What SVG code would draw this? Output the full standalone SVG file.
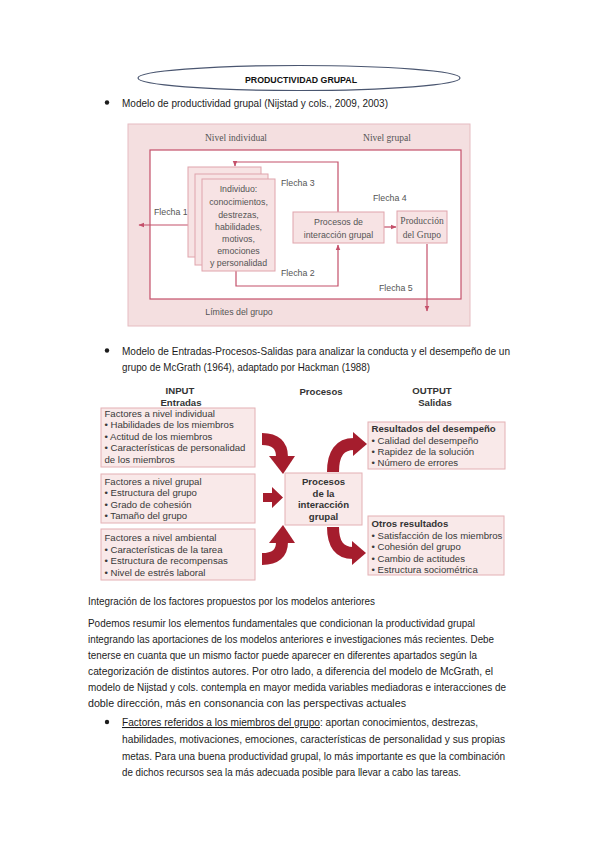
<svg xmlns="http://www.w3.org/2000/svg" width="599" height="848" viewBox="0 0 599 848">
<defs>
<style>
.pg{font-family:"Liberation Sans",Arial,sans-serif;font-size:10.5px;fill:#1c1c1c}
.d1s{font-family:"Liberation Sans",Arial,sans-serif;font-size:8.8px;fill:#555}
.d1r{font-family:"Liberation Serif","Times New Roman",serif;font-size:9.5px;fill:#555}
.d2{font-family:"Liberation Sans",Arial,sans-serif;font-size:9.6px;fill:#3a3a3a}
.d2b{font-family:"Liberation Sans",Arial,sans-serif;font-size:9.6px;font-weight:bold;fill:#333}
.ln{fill:none;stroke:#c4506a;stroke-width:1.2}
.bx1{fill:#f7e3e4;stroke:#e0a4ac;stroke-width:1}
.bx2{fill:#f9e9e9;stroke:#e3b0b4;stroke-width:1}
.arr{fill:#a51d2d}
.arrs{fill:none;stroke:#a51d2d;stroke-width:12}
</style>
<marker id="ah" viewBox="0 0 10 10" refX="9" refY="5" markerWidth="5" markerHeight="5" orient="auto"><path d="M0,1 L10,5 L0,9 z" fill="#c4506a"/></marker>
</defs>
<rect width="599" height="848" fill="#ffffff"/>

<!-- Title -->
<g id="title">
<ellipse cx="299" cy="78" rx="161" ry="12.5" fill="none" stroke="#4a5670" stroke-width="1.2"/>
<text x="301" y="82.5" text-anchor="middle" font-family="Liberation Sans,Arial,sans-serif" font-size="9" font-weight="bold" fill="#111" textLength="112" lengthAdjust="spacingAndGlyphs">PRODUCTIVIDAD GRUPAL</text>
</g>

<g id="bullet1">
<circle cx="107" cy="102.5" r="2.2" fill="#1c1c1c"/>
<text class="pg" x="122" y="106.5" textLength="266" lengthAdjust="spacingAndGlyphs">Modelo de productividad grupal (Nijstad y cols., 2009, 2003)</text>
</g>

<!-- Diagram 1 -->
<g id="d1-frame">
<rect x="128" y="124" width="342" height="202" fill="#f4dfe0" stroke="#e6bcc1" stroke-width="1"/>
<rect x="150" y="150" width="311" height="149" fill="#ffffff" stroke="#c4506a" stroke-width="1.2"/>
<text class="d1r" x="236" y="140.5" text-anchor="middle">Nivel individual</text>
<text class="d1r" x="387" y="140.5" text-anchor="middle">Nivel grupal</text>
<text class="d1s" x="239" y="315" text-anchor="middle">Límites del grupo</text>
</g>

<g id="d1-connectors">
<polyline class="ln" points="338,212 338,162 235,162 235,166" marker-end="url(#ah)"/>
<polyline class="ln" points="236,271 236,286 338,286 338,245" marker-end="url(#ah)"/>
<line class="ln" x1="188" y1="225" x2="139" y2="225" marker-end="url(#ah)"/>
<line class="ln" x1="384" y1="227" x2="396" y2="227" marker-end="url(#ah)"/>
<line class="ln" x1="427" y1="244" x2="427" y2="311" marker-end="url(#ah)" stroke-width="0.9"/>
<text class="d1s" x="154" y="214.5">Flecha 1</text>
<text class="d1s" x="281" y="186">Flecha 3</text>
<text class="d1s" x="373" y="201">Flecha 4</text>
<text class="d1s" x="281" y="276">Flecha 2</text>
<text class="d1s" x="379" y="291">Flecha 5</text>
</g>

<g id="d1-individuo">
<rect class="bx1" x="188" y="167" width="73" height="90"/>
<rect class="bx1" x="195" y="174" width="73" height="91"/>
<rect class="bx1" x="202" y="179" width="73" height="92"/>
<text class="d1s" x="238.5" y="191.5" text-anchor="middle">Individuo:</text>
<text class="d1s" x="238.5" y="205" text-anchor="middle">conocimientos,</text>
<text class="d1s" x="238.5" y="217.5" text-anchor="middle">destrezas,</text>
<text class="d1s" x="238.5" y="229.5" text-anchor="middle">habilidades,</text>
<text class="d1s" x="238.5" y="241.5" text-anchor="middle">motivos,</text>
<text class="d1s" x="238.5" y="253.5" text-anchor="middle">emociones</text>
<text class="d1s" x="238.5" y="265.5" text-anchor="middle">y personalidad</text>
</g>

<g id="d1-procesos">
<rect class="bx1" x="293" y="212" width="91" height="31"/>
<text class="d1s" x="338.5" y="225" text-anchor="middle">Procesos de</text>
<text class="d1s" x="338.5" y="238" text-anchor="middle">interacción grupal</text>
</g>

<g id="d1-produccion">
<rect class="bx1" x="397" y="211" width="50" height="32"/>
<text class="d1r" x="422" y="224" text-anchor="middle">Producción</text>
<text class="d1r" x="422" y="238" text-anchor="middle">del Grupo</text>
</g>

<g id="bullet2">
<circle cx="107" cy="350.5" r="2.2" fill="#1c1c1c"/>
<text class="pg" x="122" y="354.5" textLength="388" lengthAdjust="spacingAndGlyphs">Modelo de Entradas-Procesos-Salidas para analizar la conducta y el desempeño de un</text>
<text class="pg" x="122" y="370.5" textLength="248" lengthAdjust="spacingAndGlyphs">grupo de McGrath (1964), adaptado por Hackman (1988)</text>
</g>

<!-- Diagram 2 -->
<g id="d2-headers">
<text class="d2b" x="180" y="394" text-anchor="middle">INPUT</text>
<text class="d2b" x="181" y="405.5" text-anchor="middle">Entradas</text>
<text class="d2b" x="321" y="395" text-anchor="middle" font-size="8.8">Procesos</text>
<text class="d2b" x="432" y="394" text-anchor="middle">OUTPUT</text>
<text class="d2b" x="435" y="405.5" text-anchor="middle">Salidas</text>
</g>

<g id="d2-individual">
<rect class="bx2" x="101" y="408" width="154" height="59"/>
<text class="d2" x="104.5" y="416.5">Factores a nivel individual</text>
<text class="d2" x="104.5" y="428">• Habilidades de los miembros</text>
<text class="d2" x="104.5" y="439.5">• Actitud de los miembros</text>
<text class="d2" x="104.5" y="451">• Características de personalidad</text>
<text class="d2" x="104.5" y="462.5">   de los miembros</text>
</g>

<g id="d2-grupal">
<rect class="bx2" x="101" y="474" width="154" height="49"/>
<text class="d2" x="104.5" y="484.5">Factores a nivel grupal</text>
<text class="d2" x="104.5" y="496">• Estructura del grupo</text>
<text class="d2" x="104.5" y="507.5">• Grado de cohesión</text>
<text class="d2" x="104.5" y="519">• Tamaño del grupo</text>
</g>

<g id="d2-ambiental">
<rect class="bx2" x="101" y="529" width="154" height="51"/>
<text class="d2" x="104.5" y="541">Factores a nivel ambiental</text>
<text class="d2" x="104.5" y="552.5">• Características de la tarea</text>
<text class="d2" x="104.5" y="564">• Estructura de recompensas</text>
<text class="d2" x="104.5" y="575.5">• Nivel de estrés laboral</text>
</g>

<g id="d2-procesos">
<rect class="bx2" x="285" y="473" width="77" height="52"/>
<text class="d2b" x="323.5" y="485" text-anchor="middle">Procesos</text>
<text class="d2b" x="323.5" y="496.5" text-anchor="middle">de la</text>
<text class="d2b" x="323.5" y="508" text-anchor="middle">interacción</text>
<text class="d2b" x="323.5" y="519.5" text-anchor="middle">grupal</text>
</g>

<g id="d2-desempeno">
<rect class="bx2" x="368" y="422" width="137" height="47"/>
<text class="d2b" x="371.5" y="432">Resultados del desempeño</text>
<text class="d2" x="371.5" y="444">• Calidad del desempeño</text>
<text class="d2" x="371.5" y="455">• Rapidez de la solución</text>
<text class="d2" x="371.5" y="466">• Número de errores</text>
</g>

<g id="d2-otros">
<rect class="bx2" x="368" y="516" width="136" height="59"/>
<text class="d2b" x="371.5" y="527">Otros resultados</text>
<text class="d2" x="371.5" y="538.5">• Satisfacción de los miembros</text>
<text class="d2" x="371.5" y="550">• Cohesión del grupo</text>
<text class="d2" x="371.5" y="561.5">• Cambio de actitudes</text>
<text class="d2" x="371.5" y="573">• Estructura sociométrica</text>
</g>

<g id="d2-connectors">
<path class="arrs" d="M262,439 Q282,439 282,457" stroke-width="13"/>
<polygon class="arr" points="269,456 295,456 283,474"/>
<polygon class="arr" points="263,493 272,493 272,487 283,497.5 272,508 272,502 263,502"/>
<path class="arrs" d="M262,559 Q282,559 282,542" stroke-width="13"/>
<polygon class="arr" points="269,543 295,543 283,525"/>
<path class="arrs" d="M333,472 Q333,444 354,444" stroke-width="11"/>
<polygon class="arr" points="353,432 353,456 367,444"/>
<path class="arrs" d="M333,527 Q333,553 353,553" stroke-width="11"/>
<polygon class="arr" points="352,541 352,565 366,553"/>
</g>

<!-- Body text -->
<g id="body">
<text class="pg" x="88" y="604.5" textLength="287" lengthAdjust="spacingAndGlyphs">Integración de los factores propuestos por los modelos anteriores</text>
<text class="pg" x="88" y="626.5" textLength="387" lengthAdjust="spacingAndGlyphs">Podemos resumir los elementos fundamentales que condicionan la productividad grupal</text>
<text class="pg" x="88" y="642.5" textLength="406" lengthAdjust="spacingAndGlyphs">integrando las aportaciones de los modelos anteriores e investigaciones más recientes. Debe</text>
<text class="pg" x="88" y="658.5" textLength="389" lengthAdjust="spacingAndGlyphs">tenerse en cuanta que un mismo factor puede aparecer en diferentes apartados según la</text>
<text class="pg" x="88" y="674.5" textLength="405" lengthAdjust="spacingAndGlyphs">categorización de distintos autores. Por otro lado, a diferencia del modelo de McGrath, el</text>
<text class="pg" x="88" y="690.5" textLength="418" lengthAdjust="spacingAndGlyphs">modelo de Nijstad y cols. contempla en mayor medida variables mediadoras e interacciones de</text>
<text class="pg" x="88" y="706.5" textLength="318" lengthAdjust="spacingAndGlyphs">doble dirección, más en consonancia con las perspectivas actuales</text>
</g>

<g id="bullet3">
<circle cx="107" cy="722" r="2.2" fill="#1c1c1c"/>
<text class="pg" x="122" y="726" textLength="198" lengthAdjust="spacingAndGlyphs" text-decoration="underline">Factores referidos a los miembros del grupo</text>
<text class="pg" x="320" y="726" textLength="158" lengthAdjust="spacingAndGlyphs">: aportan conocimientos, destrezas,</text>
<text class="pg" x="122" y="743" textLength="383" lengthAdjust="spacingAndGlyphs">habilidades, motivaciones, emociones, características de personalidad y sus propias</text>
<text class="pg" x="122" y="759.5" textLength="383" lengthAdjust="spacingAndGlyphs">metas. Para una buena productividad grupal, lo más importante es que la combinación</text>
<text class="pg" x="122" y="776" textLength="339" lengthAdjust="spacingAndGlyphs">de dichos recursos sea la más adecuada posible para llevar a cabo las tareas.</text>
</g>
</svg>
